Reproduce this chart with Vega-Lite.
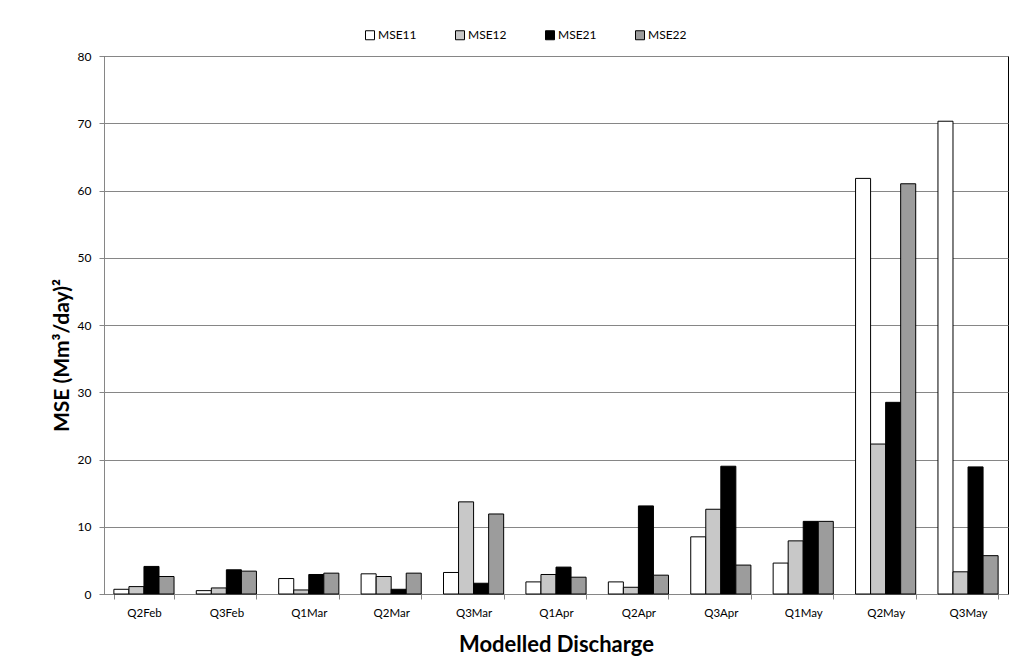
{
  "$schema": "https://vega.github.io/schema/vega-lite/v6.json",
  "autosize": {"type": "none"},
  "width": 904,
  "height": 538,
  "padding": {"left": 104, "top": 56, "right": 5, "bottom": 77},
  "background": "white",
  "config": {
    "font": "Lato",
    "view": {"stroke": "black", "strokeWidth": 1}
  },
  "data": {
    "values": [
      {"period": "Q2Feb", "series": "MSE11", "mse": 0.7},
      {"period": "Q2Feb", "series": "MSE12", "mse": 1.1},
      {"period": "Q2Feb", "series": "MSE21", "mse": 4.1},
      {"period": "Q2Feb", "series": "MSE22", "mse": 2.6},
      {"period": "Q3Feb", "series": "MSE11", "mse": 0.5},
      {"period": "Q3Feb", "series": "MSE12", "mse": 0.9},
      {"period": "Q3Feb", "series": "MSE21", "mse": 3.6},
      {"period": "Q3Feb", "series": "MSE22", "mse": 3.4},
      {"period": "Q1Mar", "series": "MSE11", "mse": 2.3},
      {"period": "Q1Mar", "series": "MSE12", "mse": 0.6},
      {"period": "Q1Mar", "series": "MSE21", "mse": 2.9},
      {"period": "Q1Mar", "series": "MSE22", "mse": 3.1},
      {"period": "Q2Mar", "series": "MSE11", "mse": 3.0},
      {"period": "Q2Mar", "series": "MSE12", "mse": 2.6},
      {"period": "Q2Mar", "series": "MSE21", "mse": 0.7},
      {"period": "Q2Mar", "series": "MSE22", "mse": 3.1},
      {"period": "Q3Mar", "series": "MSE11", "mse": 3.2},
      {"period": "Q3Mar", "series": "MSE12", "mse": 13.7},
      {"period": "Q3Mar", "series": "MSE21", "mse": 1.6},
      {"period": "Q3Mar", "series": "MSE22", "mse": 11.9},
      {"period": "Q1Apr", "series": "MSE11", "mse": 1.8},
      {"period": "Q1Apr", "series": "MSE12", "mse": 2.9},
      {"period": "Q1Apr", "series": "MSE21", "mse": 4.0},
      {"period": "Q1Apr", "series": "MSE22", "mse": 2.5},
      {"period": "Q2Apr", "series": "MSE11", "mse": 1.8},
      {"period": "Q2Apr", "series": "MSE12", "mse": 1.0},
      {"period": "Q2Apr", "series": "MSE21", "mse": 13.1},
      {"period": "Q2Apr", "series": "MSE22", "mse": 2.8},
      {"period": "Q3Apr", "series": "MSE11", "mse": 8.5},
      {"period": "Q3Apr", "series": "MSE12", "mse": 12.6},
      {"period": "Q3Apr", "series": "MSE21", "mse": 19.0},
      {"period": "Q3Apr", "series": "MSE22", "mse": 4.3},
      {"period": "Q1May", "series": "MSE11", "mse": 4.6},
      {"period": "Q1May", "series": "MSE12", "mse": 7.9},
      {"period": "Q1May", "series": "MSE21", "mse": 10.8},
      {"period": "Q1May", "series": "MSE22", "mse": 10.8},
      {"period": "Q2May", "series": "MSE11", "mse": 61.8},
      {"period": "Q2May", "series": "MSE12", "mse": 22.3},
      {"period": "Q2May", "series": "MSE21", "mse": 28.5},
      {"period": "Q2May", "series": "MSE22", "mse": 61.0},
      {"period": "Q3May", "series": "MSE11", "mse": 70.3},
      {"period": "Q3May", "series": "MSE12", "mse": 3.3},
      {"period": "Q3May", "series": "MSE21", "mse": 18.9},
      {"period": "Q3May", "series": "MSE22", "mse": 5.7}
    ]
  },
  "mark": {"type": "bar", "stroke": "black", "strokeWidth": 1},
  "encoding": {
    "x": {
      "field": "period",
      "type": "nominal",
      "sort": null,
      "scale": {"paddingInner": 0.27, "paddingOuter": 0.12},
      "axis": {
        "title": "Modelled Discharge",
        "titleFontSize": 22,
        "titleFontWeight": "bold",
        "titleColor": "black",
        "titlePadding": 16,
        "labelAngle": 0,
        "labelFontSize": 11.5,
        "labelColor": "black",
        "labelPadding": 8,
        "tickBand": "extent",
        "tickSize": 5,
        "tickColor": "#868686",
        "domainColor": "#868686"
      }
    },
    "xOffset": {"field": "series", "type": "nominal"},
    "y": {
      "field": "mse",
      "type": "quantitative",
      "scale": {"domain": [0, 80], "nice": false},
      "axis": {
        "title": "MSE (Mm³/day)²",
        "titleFontSize": 21,
        "titleFontWeight": "bold",
        "titleColor": "black",
        "titlePadding": 5,
        "titleY": 299,
        "values": [0, 10, 20, 30, 40, 50, 60, 70, 80],
        "labelFontSize": 12,
        "labelColor": "black",
        "labelPadding": 8,
        "tickSize": 5,
        "tickColor": "#868686",
        "domainColor": "#868686",
        "gridColor": "#868686",
        "gridOpacity": 1
      }
    },
    "color": {
      "field": "series",
      "type": "nominal",
      "scale": {
        "domain": ["MSE11", "MSE12", "MSE21", "MSE22"],
        "range": ["#ffffff", "#c8c8c8", "#000000", "#9c9c9c"]
      },
      "legend": {
        "title": null,
        "orient": "none",
        "direction": "horizontal",
        "legendX": 260,
        "legendY": -27,
        "symbolType": "square",
        "symbolSize": 81,
        "symbolStrokeColor": "black",
        "symbolStrokeWidth": 1,
        "symbolOpacity": 1,
        "labelFontSize": 12,
        "labelColor": "black",
        "labelOffset": 2,
        "columnPadding": 36
      }
    }
  }
}
